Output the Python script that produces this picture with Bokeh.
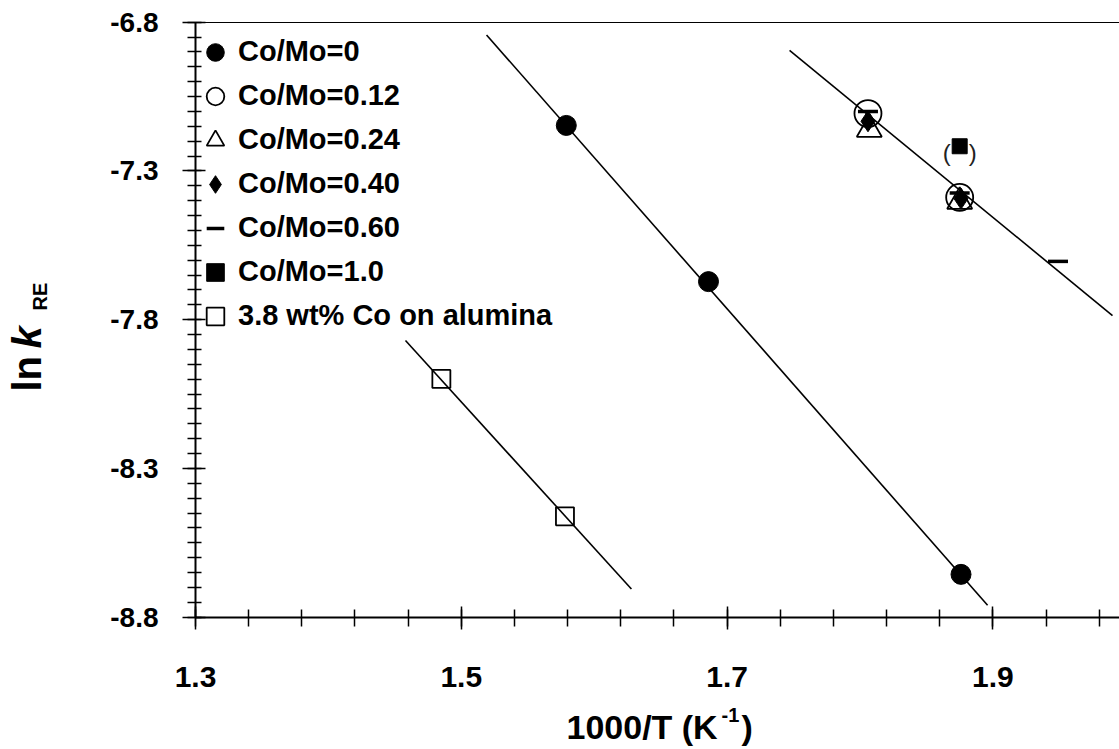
import numpy as np
from bokeh.plotting import figure
from bokeh.models import (Legend, LegendItem, Label, FixedTicker, LinearAxis,
                          PrintfTickFormatter)
from bokeh.core.properties import value
from bokeh.embed import file_html
from bokeh.resources import INLINE

# ---------------- data ----------------
x_co0 = [1.579, 1.686, 1.876]
y_co0 = [-7.147, -7.672, -8.656]

x_co012 = [1.806, 1.875]
y_co012 = [-7.107, -7.389]

x_co024 = [1.807, 1.875]
y_co024 = [-7.161, -7.403]

x_co040 = [1.806, 1.876]
y_co040 = [-7.133, -7.393]

x_co060 = [1.806, 1.875, 1.949]
y_co060 = [-7.100, -7.374, -7.604]

x_co10 = [1.875]
y_co10 = [-7.217]

x_coal = [1.485, 1.578]
y_coal = [-7.999, -8.461]

# fitted lines (end points)
fit0_x = [1.519, 1.896]
fit0_y = [-6.843, -8.760]
fitup_x = [1.747, 1.990]
fitup_y = [-6.895, -7.786]
fital_x = [1.458, 1.628]
fital_y = [-7.870, -8.705]

labels = ["Co/Mo=0", "Co/Mo=0.12", "Co/Mo=0.24", "Co/Mo=0.40",
          "Co/Mo=0.60", "Co/Mo=1.0", "3.8 wt% Co on alumina"]

x_ticks = [1.3, 1.5, 1.7, 1.9]
y_ticks = [-8.8, -8.3, -7.8, -7.3, -6.8]
x_min, x_max = 1.3, 1.9953
y_min, y_max = -8.8, -6.8

FONT = "Liberation Sans"
W, H = 1119, 749
PX_X = 1329.0   # pixels per x unit
PX_Y = 297.5    # pixels per y unit
LEFT = 195.0    # pixel of x = 1.3
TOP = 21.7      # pixel of y = -6.8

# frame covers the whole canvas, axes are pinned with fixed_location
p = figure(width=W, height=H,
           x_range=(x_min - LEFT / PX_X, x_min + (W - LEFT) / PX_X),
           y_range=(y_max - (H - TOP) / PX_Y, y_max + TOP / PX_Y),
           output_backend="svg", toolbar_location=None,
           min_border=0, min_border_left=0, min_border_right=0,
           min_border_top=0, min_border_bottom=0)
p.grid.visible = False
p.outline_line_color = None
p.background_fill_color = "white"

# lines
for fx, fy in [(fit0_x, fit0_y), (fitup_x, fitup_y), (fital_x, fital_y)]:
    p.line(fx, fy, line_color="black", line_width=1.6)

# markers
r_tri = p.scatter(x_co024, y_co024, marker="triangle", size=25,
                  fill_color=None, line_color="black", line_width=1.8)
r_oc = p.scatter(x_co012, y_co012, marker="circle", size=27,
                 fill_color=None, line_color="black", line_width=1.8)
r_dash = p.scatter(x_co060, y_co060, marker="dash", size=20,
                   line_color="black", line_width=3.5)
r_sq = p.scatter(x_co10, y_co10, marker="square", size=15,
                 fill_color="black", line_color="black")
r_dia = p.scatter(x_co040, y_co040, marker="diamond", size=21,
                  fill_color="black", line_color="black")
r_fc = p.scatter(x_co0, y_co0, marker="circle", size=20,
                 fill_color="black", line_color="black")
r_os = p.scatter(x_coal, y_coal, marker="square", size=18,
                 fill_color=None, line_color="black", line_width=1.8)

# parentheses around the Co/Mo=1.0 point
for ch, off in [("(", -13), (")", 13)]:
    p.text(x_co10, y_co10, text=value(ch), x_offset=off, y_offset=6,
           text_align="center", text_baseline="middle",
           text_font=value(FONT), text_font_size="24px", text_color="#222222")

# ---------------- axes ----------------
xa = p.xaxis[0]
xa.fixed_location = y_min
xa.bounds = (x_min, x_max)
xa.ticker = FixedTicker(ticks=x_ticks,
                        minor_ticks=list(np.round(np.arange(1.30, 1.99, 0.04), 2)))
xa.formatter = PrintfTickFormatter(format="%.1f")
xa.axis_line_width = 2
xa.axis_line_color = "black"
xa.major_tick_in = 11
xa.major_tick_out = 12
xa.minor_tick_in = 8
xa.minor_tick_out = 9
xa.major_tick_line_width = 1.5
xa.minor_tick_line_width = 1.5
xa.major_tick_line_color = "black"
xa.minor_tick_line_color = "black"
xa.major_label_text_font = FONT
xa.major_label_text_font_style = "bold"
xa.major_label_text_font_size = "30px"
xa.major_label_text_color = "black"
xa.major_label_standoff = 38

ya = p.yaxis[0]
ya.fixed_location = x_min
ya.bounds = (y_min, y_max)
ya.ticker = FixedTicker(ticks=y_ticks,
                        minor_ticks=list(np.round(np.arange(-8.8, -6.79, 0.05), 2)))
ya.formatter = PrintfTickFormatter(format="%.1f")
ya.axis_line_width = 2
ya.axis_line_color = "black"
ya.major_tick_in = 10
ya.major_tick_out = 13
ya.minor_tick_in = 6
ya.minor_tick_out = 8
ya.major_tick_line_width = 1.5
ya.minor_tick_line_width = 1.5
ya.major_tick_line_color = "black"
ya.minor_tick_line_color = "black"
ya.major_label_text_font = FONT
ya.major_label_text_font_style = "bold"
ya.major_label_text_font_size = "28px"
ya.major_label_text_color = "black"
ya.major_label_standoff = 24

# top border line
top = LinearAxis(fixed_location=y_max, bounds=(x_min, x_max),
                 major_tick_in=0, major_tick_out=0, minor_tick_in=0, minor_tick_out=0,
                 major_label_text_font_size="0px", axis_line_width=1.2,
                 axis_line_color="black")
top.ticker = FixedTicker(ticks=[])
p.add_layout(top, "above")

# ---------------- axis titles (screen px, from top-left of canvas) ----------------
def lab(text, x, y, size, style="bold", angle=0.0):
    p.add_layout(Label(x=x, y=H - y, x_units="screen", y_units="screen", text=text,
                       angle=angle, text_font=FONT, text_font_size=size,
                       text_font_style=style, text_color="black",
                       text_align="left", text_baseline="middle"))

lab("1000/T (K", 566, 726, "34px")
lab("-1", 721, 714, "20px")
lab(")", 741, 726, "34px")

lab("ln", 26, 391, "40px", angle=np.pi / 2)
lab("k", 26, 348, "40px", style="bold italic", angle=np.pi / 2)
lab("RE", 39, 310, "20px", angle=np.pi / 2)

# ---------------- legend ----------------
items = [LegendItem(label=labels[0], renderers=[r_fc]),
         LegendItem(label=labels[1], renderers=[r_oc]),
         LegendItem(label=labels[2], renderers=[r_tri]),
         LegendItem(label=labels[3], renderers=[r_dia]),
         LegendItem(label=labels[4], renderers=[r_dash]),
         LegendItem(label=labels[5], renderers=[r_sq]),
         LegendItem(label=labels[6], renderers=[r_os])]
leg = Legend(items=items, location=(192, H - 337.7), padding=0, margin=0,
             spacing=0, glyph_width=46, glyph_height=44, label_standoff=0,
             label_text_font=FONT, label_text_font_style="bold",
             label_text_font_size="29px", label_text_color="black",
             border_line_color=None, background_fill_alpha=0.0)
p.add_layout(leg)

open("out.html", "w").write(file_html(p, INLINE))
